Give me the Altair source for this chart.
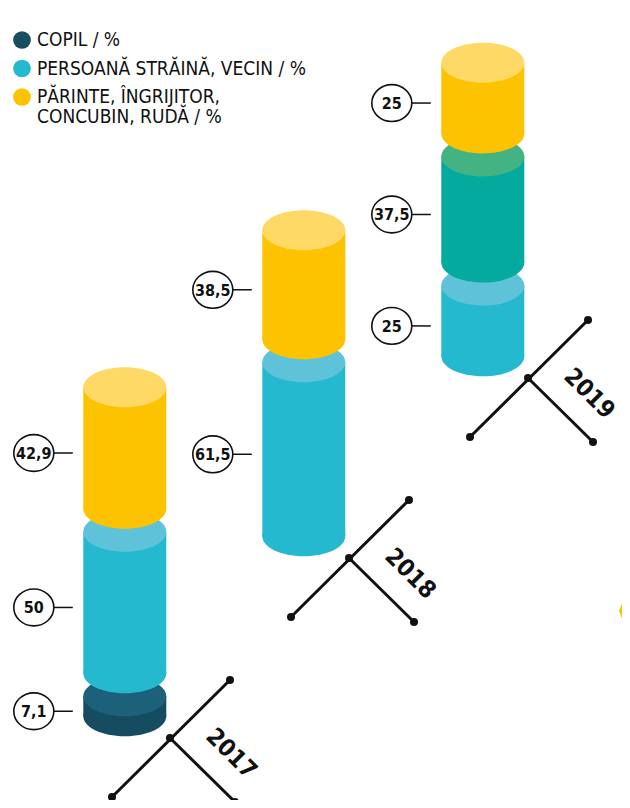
import altair as alt
import pandas as pd

# ---------------- data ----------------
YEARS = [2017, 2018, 2019]
SEG_YEAR = [2017, 2017, 2017, 2018, 2018, 2019, 2019, 2019]
SEG_KEY = ["copil", "strain", "parinte", "strain", "parinte", "strain", "altul", "parinte"]
SEG_VALUE = [7.1, 50, 42.9, 61.5, 38.5, 25, 37.5, 25]

LEGEND_KEY = ["copil", "strain", "parinte"]
LEGEND_LABEL = ["COPIL / %", "PERSOANĂ STRĂINĂ, VECIN / %", "PĂRINTE, ÎNGRIJITOR,\nCONCUBIN, RUDĂ / %"]

# ---------------- styles ----------------
BODY = {"copil": "#154c5f", "strain": "#25b9cf", "parinte": "#fdc300", "altul": "#05aa9f"}
FACE = {"copil": "#1c6179", "strain": "#5ec3d8", "parinte": "#ffd966", "altul": "#44b383"}
LEGEND_COLOR = {"copil": "#184e62", "strain": "#25b9cf", "parinte": "#fdc300"}
INK = "#111111"
NARROW = "'Liberation Sans Narrow', 'DejaVu Sans Condensed', sans-serif"
COND = "'DejaVu Sans Condensed', 'Liberation Sans Narrow', sans-serif"

# ---------------- layout (page pixels) ----------------
W, H = 614, 792      # keeps the page inside the 630x808 window
K = 2.83             # pixels per percentage point
RX, RY = 41.5, 20    # cylinder radii
GAP = 23             # gap between stacked segments
COL_X0, BASE_Y0 = 124.8, 716.3
STEP_X, STEP_Y = 179, -180
CROSS_DX, CROSS_DY = 45.2, 21.7
YEAR_DX, YEAR_DY = 61, 16


def ux(px):
    return (px - 8) / K


def uy(py):
    return (8 + H - py) / K


def ellipse_path(r):
    k = 0.5523
    return (f"M-1,0C-1,{-k*r:.4f},{-k:.4f},{-r:.4f},0,{-r:.4f}"
            f"C{k:.4f},{-r:.4f},1,{-k*r:.4f},1,0"
            f"C1,{k*r:.4f},{k:.4f},{r:.4f},0,{r:.4f}"
            f"C{-k:.4f},{r:.4f},-1,{k*r:.4f},-1,0Z")


CYL = ellipse_path(RY / RX)
CYL_SIZE = (2 * RX) ** 2
TAG = ellipse_path(0.92)

# ---------------- tables ----------------
rows = []
cross_rows, cross_pts, year_rows = [], [], []
for i, yr in enumerate(YEARS):
    cx = COL_X0 + i * STEP_X
    by = BASE_Y0 + i * STEP_Y
    acc = uy(by)
    lvl = 0
    for y_, k_, v in zip(SEG_YEAR, SEG_KEY, SEG_VALUE):
        if y_ != yr:
            continue
        y0, y1 = acc, acc + v
        rows.append(dict(year=yr, key=k_, value=v, level=lvl,
                         cx=ux(cx), xl=ux(cx - RX), xr=ux(cx + RX),
                         y0=y0, y1=y1, ymid=(y0 + y1) / 2 - 5 / K,
                         tx=ux(cx - 91), r1=ux(cx - 71), r2=ux(cx - 52),
                         label=f"{v:g}".replace(".", ","),
                         body=BODY[k_], face=FACE[k_]))
        acc = y1 + GAP / K
        lvl += 1
    ccx, ccy = cx + CROSS_DX, by + CROSS_DY
    a1 = (ccx - 58, ccy + 59)
    a2 = (ccx + 60, ccy - 58)
    b = (ccx + 65, ccy + 64)
    cross_rows.append(dict(x=ux(a1[0]), y=uy(a1[1]), x2=ux(a2[0]), y2=uy(a2[1])))
    cross_rows.append(dict(x=ux(ccx), y=uy(ccy), x2=ux(b[0]), y2=uy(b[1])))
    for p in (a1, a2, b, (ccx, ccy)):
        cross_pts.append(dict(x=ux(p[0]), y=uy(p[1])))
    year_rows.append(dict(x=ux(ccx + YEAR_DX), y=uy(ccy + YEAR_DY), text=str(yr)))

seg = pd.DataFrame(rows)
cross = pd.DataFrame(cross_rows)
dots = pd.DataFrame(cross_pts)
yrs = pd.DataFrame(year_rows)

leg_pts, leg_txt = [], []
for i, (k_, lab) in enumerate(zip(LEGEND_KEY, LEGEND_LABEL)):
    py = 40 + i * 28.5
    leg_pts.append(dict(x=ux(22), y=uy(py), color=LEGEND_COLOR[k_]))
    for j, line in enumerate(lab.split("\n")):
        leg_txt.append(dict(x=ux(37), y=uy(py + j * 20), text=line))
legp = pd.DataFrame(leg_pts)
legt = pd.DataFrame(leg_txt)

decor = pd.DataFrame([dict(x=ux(641), y=uy(611))])

# ---------------- scales ----------------
XS = alt.Scale(domain=[0, W / K], nice=False, zero=False)
YS = alt.Scale(domain=[0, H / K], nice=False, zero=False)


def X(f):
    return alt.X(f"{f}:Q", scale=XS, axis=None)


def Y(f):
    return alt.Y(f"{f}:Q", scale=YS, axis=None)


layers = []
for lvl in range(3):
    base = alt.Chart(seg).transform_filter(alt.datum.level == lvl)
    layers.append(base.mark_point(shape=CYL, size=CYL_SIZE, filled=True, opacity=1, strokeWidth=0)
                  .encode(x=X("cx"), y=Y("y0"), color=alt.Color("body:N", scale=None)))
    layers.append(base.mark_rect(strokeWidth=0)
                  .encode(x=X("xl"), x2="xr:Q", y=Y("y0"), y2="y1:Q", color=alt.Color("body:N", scale=None)))
    layers.append(base.mark_point(shape=CYL, size=CYL_SIZE, filled=True, opacity=1, strokeWidth=0)
                  .encode(x=X("cx"), y=Y("y1"), color=alt.Color("face:N", scale=None)))

segc = alt.Chart(seg)
layers.append(segc.mark_rule(color=INK, strokeWidth=1.5)
              .encode(x=X("r1"), x2="r2:Q", y=Y("ymid")))
layers.append(segc.mark_point(shape=TAG, size=1600, filled=True, fill="white", stroke=INK,
                              strokeWidth=1.6, opacity=1)
              .encode(x=X("tx"), y=Y("ymid")))
layers.append(segc.mark_text(font=NARROW, fontSize=16, fontWeight="bold", color=INK,
                             align="center", baseline="middle", dy=1)
              .encode(x=X("tx"), y=Y("ymid"), text="label:N"))

layers.append(alt.Chart(cross).mark_rule(color=INK, strokeWidth=3)
              .encode(x=X("x"), y=Y("y"), x2="x2:Q", y2="y2:Q"))
layers.append(alt.Chart(dots).mark_circle(color=INK, size=64, opacity=1)
              .encode(x=X("x"), y=Y("y")))
layers.append(alt.Chart(yrs).mark_text(font=NARROW, fontSize=24, fontWeight="bold", color=INK,
                                       angle=45, align="center", baseline="middle")
              .encode(x=X("x"), y=Y("y"), text="text:N"))

layers.append(alt.Chart(legp).mark_circle(size=314, opacity=1)
              .encode(x=X("x"), y=Y("y"), color=alt.Color("color:N", scale=None)))
layers.append(alt.Chart(legt).mark_text(font=COND, fontSize=19, color=INK, align="left", baseline="middle")
              .encode(x=X("x"), y=Y("y"), text="text:N"))

layers.append(alt.Chart(decor).mark_point(shape="M-0.4,0L0,-1L0.4,0L0,1Z", size=12100, filled=True,
                                          opacity=1, color="#fdc300", strokeWidth=0)
              .encode(x=X("x"), y=Y("y")))

chart = (alt.layer(*layers)
         .properties(width=W, height=H, autosize=alt.AutoSizeParams(type="none"), padding=0)
         .configure_view(stroke=None))

chart.save("out.html", embed_options={"renderer": "svg", "actions": False})
